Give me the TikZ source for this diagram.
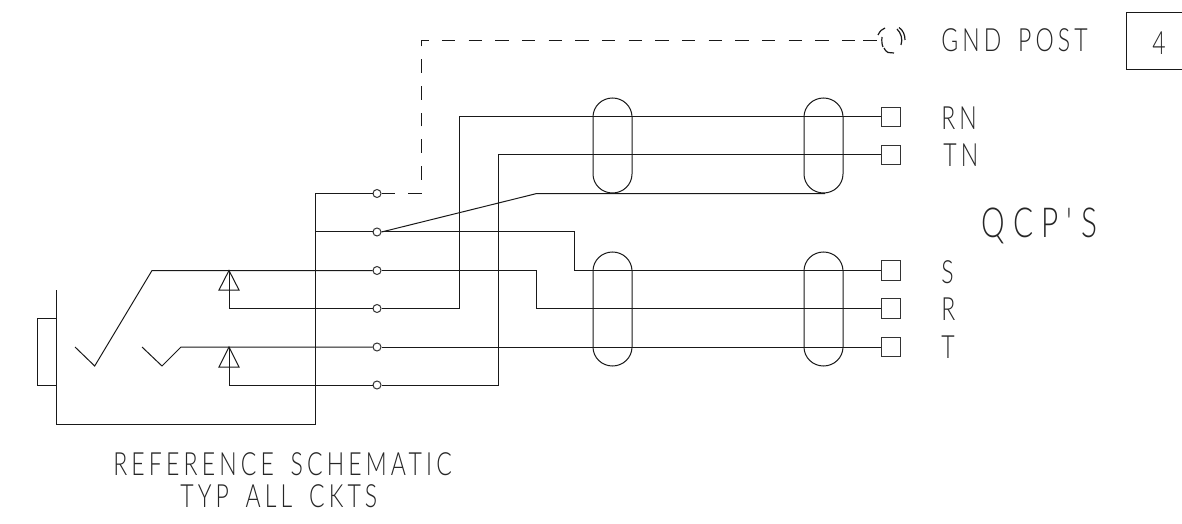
\documentclass[tikz,border=0pt]{standalone}
\usepackage{fontspec}
\newfontfamily\cadfont[FakeStretch=0.72,LetterSpace=13,WordSpace=1.6]{Lato Light}
\newfontfamily\cadbigfont[FakeStretch=0.72,LetterSpace=20]{Lato Light}
\tikzset{
  x=0.75pt,y=-0.75pt,
  wire/.style={draw=black!90,line width=0.75pt,line join=miter},
  dashwire/.style={wire,dash pattern=on 10.2pt off 9.8pt},
  pin/.style={circle,draw=black!80,fill=white,line width=0.75pt,minimum size=6pt,inner sep=0pt},
  term/.style={rectangle,draw=black!80,fill=none,line width=0.75pt,minimum size=14.6pt,inner sep=0pt},
  lbl/.style={inner sep=0pt,text=black!85,anchor=base west,font=\cadfont\fontsize{24}{26}\selectfont},
  biglbl/.style={lbl,font=\cadbigfont\fontsize{31}{33}\selectfont},
}
\begin{document}
\begin{tikzpicture}
\useasboundingbox (0,0) rectangle (1182,524);
% pins and terminals
\foreach \n/\y in {p1/193.5,p2/232,p3/270.5,p4/308.5,p5/347,p6/385}
  \node[pin] (\n) at (377,\y) {};
\foreach \n/\y in {rn/117,tn/155,s/270.5,r/308.5,t/347}
  \node[term] (\n) at (891,\y) {};
\coordinate (post) at (877,40.5);
\coordinate (stem) at (863,40.5);
\coordinate (dcorner) at (421,40.5);
% ground post
\draw[wire] (stem) -- (post);
\draw[wire,line width=0.9pt]
  (878,35) .. controls (880,31) and (882,29) .. (885,28)
  (882,37) .. controls (881.5,41) and (882,45) .. (883,47)
  (884,48) .. controls (885,50) and (886,51.5) .. (888,52.5) -- (894,53)
  (897,29) .. controls (901,33) and (903,39) .. (901,45)
  (899,27.5) .. controls (903,30) and (905,35) .. (905,40);
% connectors
\draw[dashwire] (p1.east) -| (dcorner) -- (stem);
\draw[wire] (p1.west) -- (315,193.5) -- (315,424) -- (56,424) -- (56,290);
\draw[wire] (p2.west) -- (315,232);
\draw[wire] (p2.east) -- (536,193.7) -- (825,193.7);
\draw[wire] (p2.east) -- (574,232) -- (574,270.5) -- (s.west);
\draw[wire] (p3.east) -- (536,270.5) -- (536,308.5) -- (r.west);
\draw[wire] (p4.east) -- (459.5,308.5) -- (459.5,117) -- (rn.west);
\draw[wire] (p5.east) -- (t.west);
\draw[wire] (p6.east) -- (498,385) -- (498,155) -- (tn.west);
% jack
\draw[wire] (56,318) -- (37,318) -- (37,385.5) -- (56,385.5);
\draw[wire] (75,347) -- (94.7,366) -- (152,270.5) -- (p3.west);
\draw[wire] (142,347) -- (162,366) -- (181,347) -- (p5.west);
% contacts
\draw[wire] (229,270.5) -- (219,290) -- (239,290) -- cycle;
\draw[wire] (229,270.5) -- (229,308.5) -- (p4.west);
\draw[wire] (229,347) -- (219,367) -- (239,367) -- cycle;
\draw[wire] (229,347) -- (229,385) -- (p6.west);
% shield ovals
\foreach \xa/\xb in {593/632,804/843}{
  \draw[wire] (\xa,117) arc (180:360:19.5 and 19) -- (\xb,174) arc (0:180:19.5 and 19) -- cycle;
  \draw[wire] (\xa,271) arc (180:360:19.5 and 19) -- (\xb,347) arc (0:180:19.5 and 19) -- cycle;
}
% reference box
\draw[wire] (1182,13) -- (1126,13) -- (1126,70) -- (1182,70);
% labels
\node[lbl] at (1152,55) {4};
\node[lbl] at (941,52) {GND POST};
\node[lbl] at (941,130) {RN};
\node[lbl] at (943,167) {TN};
\node[lbl] at (941,283) {S};
\node[lbl] at (941,320) {R};
\node[lbl] at (941,358) {T};
\node[biglbl] at (981,238) {QCP'S};
\node[lbl] at (113,475) {REFERENCE SCHEMATIC};
\node[lbl] at (180,507) {TYP ALL CKTS};
\end{tikzpicture}
\end{document}
